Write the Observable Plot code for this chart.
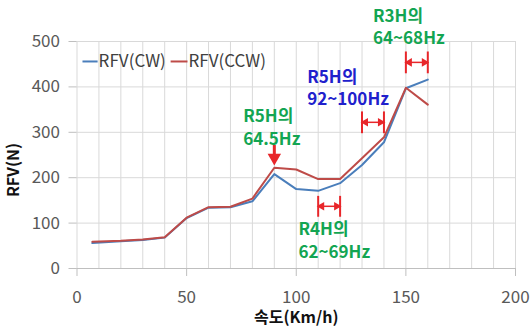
<!DOCTYPE html>
<html><head><meta charset="utf-8">
<script src="https://cdn.jsdelivr.net/npm/d3@7"></script>
<script src="https://cdn.jsdelivr.net/npm/@observablehq/plot@0.6"></script>
<style>body{margin:0;background:#fff;} svg{display:block;}</style>
</head><body><div id="chart"></div>
<script>
const speed  = [7, 20, 30, 40, 50, 60, 70, 80, 90, 100, 110, 120, 130, 140, 150, 160];
const rfvCW  = [56, 60, 63, 68, 111, 134, 135, 148, 208, 175, 171, 188, 228, 278, 397, 416];
const rfvCCW = [59, 61, 64, 69, 112, 135, 136, 154, 222, 218, 197, 197, 243, 289, 398, 361];
const seriesNames = ["RFV(CW)", "RFV(CCW)"];
const seriesColors = ["#4a7ebb", "#be4b48"];
const xTicks = [0, 50, 100, 150, 200];
const yTicks = [0, 100, 200, 300, 400, 500];
const xGrid = d3.range(0, 201, 10);

// annotation labels (data coordinates, two lines each)
const annoText  = ["R3H의\n64~68Hz", "R5H의\n92~100Hz", "R5H의\n64.5Hz", "R4H의\n62~69Hz"];
const annoX     = [135, 105, 75.8, 101];
const annoY     = [534, 400, 313, 64];
const annoColor = ["#13a552", "#2020cc", "#13a552", "#13a552"];
// double-arrow ranges
const rangeX1 = [150, 130, 110];
const rangeX2 = [160, 140, 120];
const rangeY  = [454, 322, 137];
const rangeH  = [24, 24, 23];
// down arrow
const downX = 90, downY1 = 272, downY2 = 250, downHead = 244;

const data = [];
speed.forEach((s, i) => data.push({x: s, y: rfvCW[i], s: seriesNames[0]}));
speed.forEach((s, i) => data.push({x: s, y: rfvCCW[i], s: seriesNames[1]}));
const annos = annoText.map((t, i) => ({t, x: annoX[i], y: annoY[i], c: annoColor[i]}));
const ranges = rangeX1.map((x1, i) => ({x1, x2: rangeX2[i], y: rangeY[i], h: rangeH[i]}));
const bars = ranges.flatMap(r => [{x: r.x1, y1: r.y - r.h, y2: r.y + r.h}, {x: r.x2, y1: r.y - r.h, y2: r.y + r.h}]);
const legend = [
  {x1: 2.5, x2: 9.4, y: 456, t: seriesNames[0], c: seriesColors[0]},
  {x1: 42.7, x2: 50.4, y: 456, t: seriesNames[1], c: seriesColors[1]}
];

const red = "#e8262a";
const font = "'Noto Sans CJK KR', 'Open Sans', sans-serif";

const chart = Plot.plot({
  width: 530, height: 328,
  marginLeft: 76.5, marginRight: 15, marginTop: 41, marginBottom: 60,
  style: {fontFamily: font, background: "#fff"},
  x: {domain: [0, 200]},
  y: {domain: [0, 500]},
  color: {domain: seriesNames, range: seriesColors},
  marks: [
    Plot.ruleX(xGrid, {stroke: "#d9d9d9", strokeWidth: 1}),
    Plot.ruleY(yTicks, {stroke: "#d9d9d9", strokeWidth: 1}),
    Plot.ruleY([0], {stroke: "#bfbfbf"}),
    Plot.axisX(xTicks, {tickSize: 8, tickPadding: 14, fontSize: 17, stroke: "#bfbfbf", fill: "#595959", label: null}),
    Plot.axisY(yTicks, {tickSize: 8, tickPadding: 9, fontSize: 17, stroke: "#bfbfbf", fill: "#595959", label: null}),
    Plot.text(["RFV(N)"], {frameAnchor: "left", textAnchor: "middle", lineAnchor: "middle", rotate: -90, dx: -63, dy: 15, fontSize: 16, fontWeight: "bold", fill: "#111"}),
    Plot.text(["속도(Km/h)"], {frameAnchor: "bottom", textAnchor: "middle", lineAnchor: "middle", dy: 49, fontSize: 16, fontWeight: "bold", fill: "#111"}),
    Plot.line(data.filter(d => d.s === seriesNames[0]), {x: "x", y: "y", stroke: "s", strokeWidth: 2}),
    Plot.line(data.filter(d => d.s === seriesNames[1]), {x: "x", y: "y", stroke: "s", strokeWidth: 2}),
    Plot.link(legend, {x1: "x1", x2: "x2", y1: "y", y2: "y", stroke: "c", strokeWidth: 2}),
    Plot.text(legend, {x: "x2", y: "y", text: "t", textAnchor: "start", fontSize: 17, fill: "#404040", dx: 1}),
    Plot.text(annos, {x: "x", y: "y", text: "t", fill: "c", textAnchor: "start", lineAnchor: "middle", lineHeight: 1.3, fontSize: 17, fontWeight: "bold"}),
    Plot.link(ranges, {x1: "x1", x2: "x2", y1: "y", y2: "y", stroke: red, strokeWidth: 1.5}),
    Plot.dot(ranges, {x: "x2", y: "y", symbol: "triangle", rotate: 90, r: 3.2, fill: red, dx: -3.5}),
    Plot.dot(ranges, {x: "x1", y: "y", symbol: "triangle", rotate: -90, r: 3.2, fill: red, dx: 3.5}),
    Plot.link(bars, {x1: "x", x2: "x", y1: "y1", y2: "y2", stroke: red, strokeWidth: 2}),
    Plot.link([{x: downX, y1: downY1, y2: downY2}], {x1: "x", x2: "x", y1: "y1", y2: "y2", stroke: red, strokeWidth: 3}),
    Plot.dot([{x: downX, y: downHead}], {x: "x", y: "y", symbol: "triangle", rotate: 180, r: 5, fill: red})
  ]
});
document.getElementById("chart").appendChild(chart);
</script>
</body></html>
